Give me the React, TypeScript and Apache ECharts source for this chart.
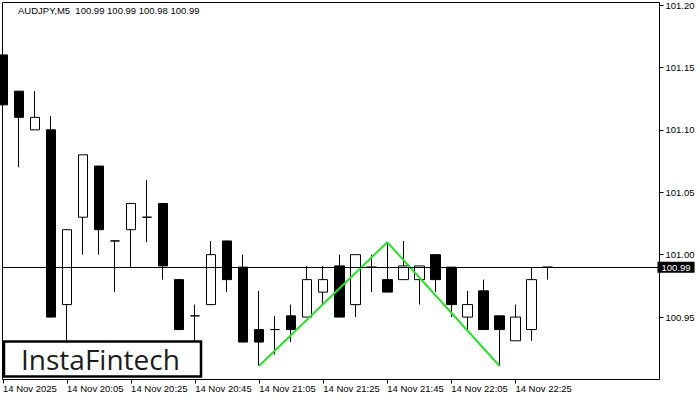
import React, { useEffect, useRef } from "react";
import * as echarts from "echarts";

const times = [
  "19:45", "19:50", "19:55", "20:00", "20:05", "20:10", "20:15", "20:20", "20:25", "20:30",
  "20:35", "20:40", "20:45", "20:50", "20:55", "21:00", "21:05", "21:10", "21:15", "21:20",
  "21:25", "21:30", "21:35", "21:40", "21:45", "21:50", "21:55", "22:00", "22:05", "22:10",
  "22:15", "22:20", "22:25", "22:30", "22:35", "22:40", "22:45", "22:50", "22:55", "23:00",
  "23:05", "23:10",
];

const opens = [
  101.16, 101.131, 101.1, 101.1, 100.96, 101.03, 101.071, 101.011, 101.02, 101.03,
  101.041, 100.98, 100.951, 100.96, 101.011, 100.99, 100.94, 100.94, 100.951, 100.95,
  100.97, 100.991, 100.96, 100.99, 100.98, 100.98, 100.98, 101.0, 100.99, 100.95,
  100.971, 100.951, 100.931, 100.94, 100.99,
];
const closes = [
  101.12, 101.11, 101.11, 100.95, 101.02, 101.08, 101.02, 101.011, 101.041, 101.03,
  100.991, 100.94, 100.951, 101.0, 100.98, 100.93, 100.93, 100.94, 100.94, 100.98,
  100.98, 100.95, 101.0, 100.99, 100.97, 100.991, 100.991, 100.98, 100.96, 100.96,
  100.94, 100.94, 100.95, 100.98, 100.99,
];
const lows = [
  101.11, 101.07, 101.1, 100.95, 100.925, 101.0, 101.0, 100.97, 100.99, 101.01,
  100.98, 100.94, 100.925, 100.96, 100.97, 100.93, 100.911, 100.92, 100.93, 100.95,
  100.96, 100.95, 100.95, 100.97, 100.97, 100.98, 100.96, 100.97, 100.95, 100.94,
  100.94, 100.911, 100.931, 100.931, 100.98,
];
const highs = [
  101.17, 101.131, 101.131, 101.111, 101.02, 101.08, 101.071, 101.011, 101.041, 101.06,
  101.041, 100.98, 100.96, 101.011, 101.011, 101.0, 100.971, 100.951, 100.96, 100.991,
  100.991, 101.0, 101.0, 101.0, 101.01, 101.011, 100.991, 101.0, 100.99, 100.971,
  100.98, 100.951, 100.96, 100.99, 100.99,
];

// Double top pattern: index -> price
const patternIdx = [16, 24, 31];
const patternVals = [100.911, 101.01, 100.911];

const currentPrice = 100.99;
const yMin = 100.9;
const yMax = 101.2;
const yStep = 0.05;

const headerText = "AUDJPY,M5  100.99 100.99 100.98 100.99";
const firstDateLabel = "14 Nov 2025";
const datePrefix = "14 Nov ";

export default function App() {
  const ref = useRef<HTMLDivElement>(null);
  useEffect(() => {
    if (!ref.current) return;
    const chart = echarts.init(ref.current, undefined, { renderer: "svg" });
    const candles = opens.map((o, i) => [o, closes[i], lows[i], highs[i]]);
    const pattern: (number | null)[] = times.map(() => null);
    patternIdx.forEach((idx, k) => (pattern[idx] = patternVals[k]));
    const lastBar = opens.length - 1;
    const font = "Liberation Sans, Arial, sans-serif";
    chart.setOption({
      animation: false,
      backgroundColor: "#fff",
      grid: { left: 3, right: 40.5, top: 4.5, bottom: 20.5 },
      xAxis: {
        type: "category",
        data: times,
        boundaryGap: false,
        axisLine: { show: false },
        axisTick: {
          show: true,
          length: 4,
          interval: (i: number) => i % 4 === 0 && i <= lastBar,
          lineStyle: { color: "#000" },
        },
        axisLabel: {
          interval: (i: number) => i % 4 === 0 && i <= lastBar,
          formatter: (v: string, i: number) => (i === 0 ? firstDateLabel : datePrefix + v),
          align: "left",
          margin: 4,
          color: "#000",
          fontSize: 9.5,
          fontFamily: font,
        },
        splitLine: { show: false },
      },
      yAxis: {
        type: "value",
        position: "right",
        min: yMin,
        max: yMax,
        interval: yStep,
        axisLine: { show: false },
        axisTick: { show: true, length: 4, lineStyle: { color: "#000" } },
        axisLabel: {
          showMinLabel: false,
          formatter: (v: number) => v.toFixed(2),
          margin: 6,
          color: "#000",
          fontSize: 9.5,
          fontFamily: font,
        },
        splitLine: { show: false },
      },
      series: [
        {
          type: "candlestick",
          data: candles,
          barWidth: 10,
          clip: true,
          itemStyle: {
            color: "#fff",
            color0: "#000",
            borderColor: "#000",
            borderColor0: "#000",
            borderWidth: 1,
          },
          markLine: {
            silent: true,
            symbol: "none",
            lineStyle: { color: "#000", type: "solid", width: 1 },
            label: {
              position: "end",
              distance: -2,
              formatter: currentPrice.toFixed(2),
              color: "#fff",
              backgroundColor: "#000",
              padding: [1, 4, 0, 4],
              fontSize: 9.5,
              fontFamily: font,
            },
            data: [{ yAxis: currentPrice }],
          },
          z: 2,
        },
        {
          type: "line",
          data: pattern,
          connectNulls: true,
          symbol: "none",
          lineStyle: { color: "#22e622", width: 2 },
          z: 3,
        },
      ],
      graphic: [
        {
          type: "rect",
          shape: { x: 2.5, y: 2.5, width: 657, height: 377 },
          style: { fill: "none", stroke: "#000", lineWidth: 1 },
          z: 10,
        },
        {
          type: "text",
          x: 18,
          y: 10,
          style: {
            text: headerText,
            fill: "#000",
            font: `9.5px ${font}`,
            align: "left",
            verticalAlign: "middle",
          },
          z: 10,
        },
        {
          type: "group",
          z: 20,
          children: [
            {
              type: "rect",
              shape: { x: 4, y: 341.5, width: 197, height: 35 },
              style: { fill: "#fff", stroke: "#000", lineWidth: 2.5 },
              z: 20,
            },
            {
              type: "text",
              x: 21,
              y: 359,
              style: {
                text: "InstaFintech",
                fill: "#1c1c1c",
                font: "500 28px 'Open Sans', sans-serif",
                align: "left",
                verticalAlign: "middle",
              },
              z: 21,
            },
          ],
        },
      ],
    });
    return () => chart.dispose();
  }, []);
  return (
    <div
      ref={ref}
      style={{ position: "absolute", left: 0, top: 0, width: 700, height: 400 }}
    />
  );
}
